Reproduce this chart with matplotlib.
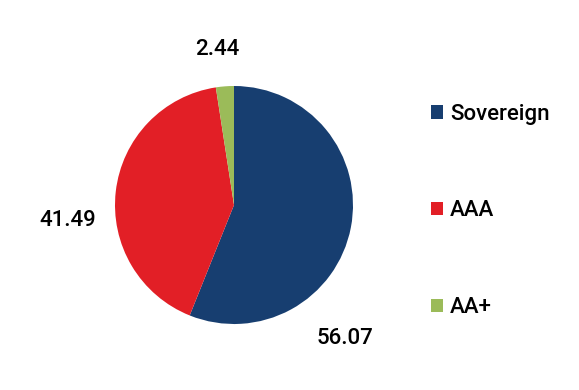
import matplotlib.pyplot as plt
from matplotlib.patches import Patch

# data
categories = ['Sovereign', 'AAA', 'AA+']
shares = [56.07, 41.49, 2.44]
colors = ['#173e70', '#e21f26', '#9bbb59']

plt.rcParams['font.family'] = ['Roboto', 'DejaVu Sans']
plt.rcParams['font.weight'] = 'medium'

W, H = 579, 390
fig = plt.figure(figsize=(W / 100, H / 100), dpi=100)

# pie axes, placed in pixels: center (234, 205), radius 119
cx, cy, r = 234, 205, 119
ax = fig.add_axes([(cx - r) / W, (H - cy - r) / H, 2 * r / W, 2 * r / H])
wedges, _ = ax.pie(shares, colors=colors, startangle=90, counterclock=False,
                   radius=1, wedgeprops=dict(linewidth=0))
ax.set_xlim(-1, 1)
ax.set_ylim(-1, 1)
ax.set_aspect('equal')
ax.axis('off')

# data labels, placed like the original (pixel offsets from center)
label_pos = [(345, 339), (68, 221), (217, 50)]
for val, (px, py) in zip(shares, label_pos):
    ax.text((px - cx) / r, (cy - py) / r, f'{val:.2f}', ha='center', va='center',
            fontsize=16, color='black', clip_on=False)

handles = [Patch(facecolor=c, edgecolor='none') for c in colors]
fig.legend(handles, categories, loc='center left', bbox_to_anchor=(431 / W, 1 - 211 / H),
           frameon=False, fontsize=16, handlelength=0.55, handleheight=0.55,
           handletextpad=0.3, labelspacing=3.4, borderpad=0, borderaxespad=0)

fig.savefig('out.png', dpi=100)
